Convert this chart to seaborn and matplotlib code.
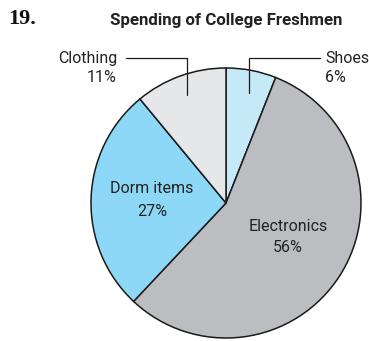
import matplotlib.pyplot as plt
import seaborn as sns

# data
categories = ['Shoes', 'Electronics', 'Dorm items', 'Clothing']
percents = [6, 56, 27, 11]
slice_colors = ['#c6e9f8', '#bcbdc1', '#8dd8f6', '#e6e7e9']

sns.set_style('white')
plt.rcParams['font.family'] = ['Roboto', 'DejaVu Sans']

fig = plt.figure(figsize=(3.69, 3.41), dpi=100)
ax = fig.add_axes([91 / 369, 3 / 341, 270 / 369, 270 / 341])

wedges, _ = ax.pie(percents, colors=sns.color_palette(slice_colors), startangle=90,
                   counterclock=False, radius=1,
                   wedgeprops=dict(edgecolor='#1a1a1a', linewidth=1.1))
ax.set_xlim(-1, 1)
ax.set_ylim(-1, 1)
ax.set_aspect('equal')
ax.axis('off')

txt = '#222222'
lab = dict(fontsize=11.5, color=txt, linespacing=1.3)
# inside labels
ax.text(-0.548, 0.022, f'{categories[2]}\n{percents[2]}%', ha='center', va='center',
        fontsize=11.5, color=txt, linespacing=1.6)
ax.text(0.46, -0.25, f'{categories[1]}\n{percents[1]}%', ha='center', va='center',
        fontsize=11.5, color=txt, linespacing=1.5)

# outside labels with leader lines (figure coords in pixels)
def px(x, y):
    return x / 369, 1 - y / 341

fig.text(*px(117, 68), f'{categories[3]}\n{percents[3]}%', ha='right', va='center', **lab)
fig.text(*px(325, 68), f'{categories[0]}\n{percents[0]}%', ha='left', va='center', **lab)
for xs, ys in [([126, 187, 187], [58, 58, 95]), ([320, 249, 249], [58, 58, 93])]:
    fig.add_artist(plt.Line2D([x / 369 for x in xs], [1 - y / 341 for y in ys],
                              color='#1a1a1a', linewidth=0.9))

fig.text(*px(226, 21), 'Spending of College Freshmen', ha='center', va='center',
         fontsize=12.2, fontweight='bold', color='#222222')
fig.text(*px(8, 19), '19.', ha='left', va='center', fontsize=16, fontweight='bold',
         family='Liberation Serif', color='#111111')

fig.savefig('out.png', dpi=100)
